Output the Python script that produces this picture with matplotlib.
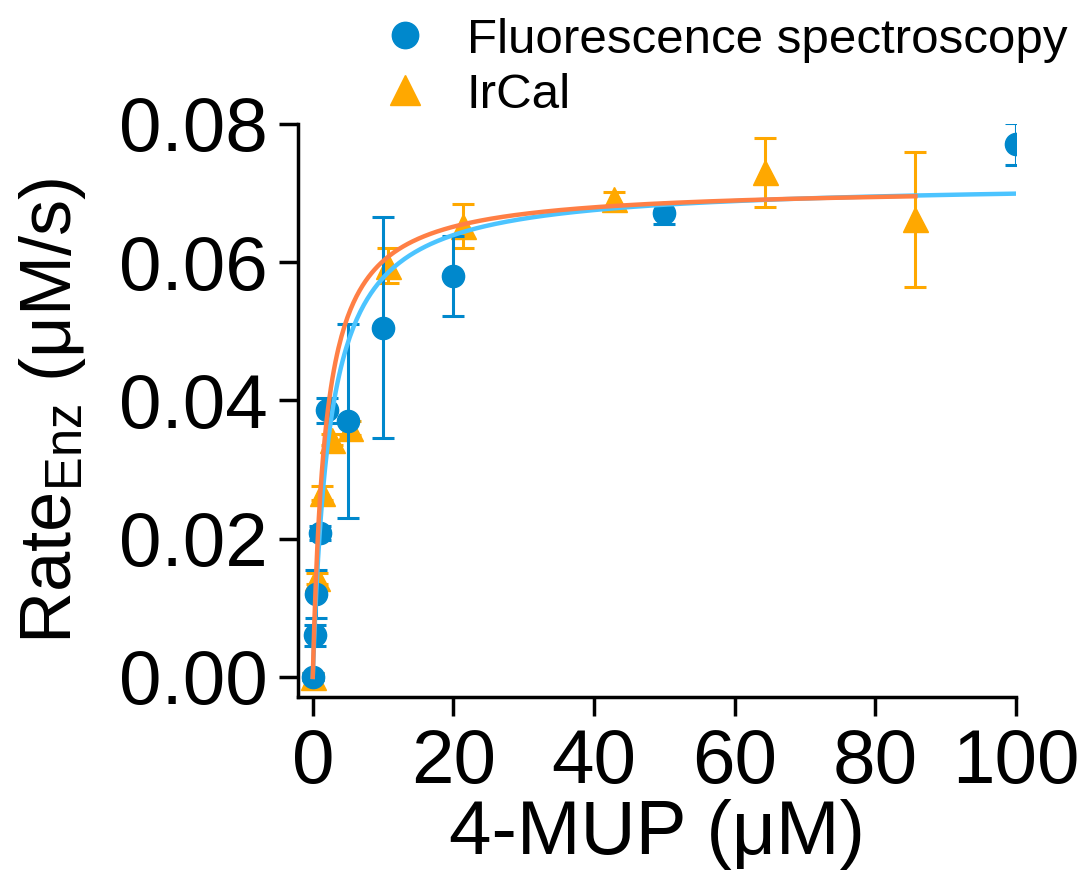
import numpy as np
import matplotlib
matplotlib.use("Agg")
import matplotlib.pyplot as plt
from matplotlib.lines import Line2D

plt.rcParams['font.family'] = ['Liberation Sans', 'DejaVu Sans']
plt.rcParams['mathtext.fontset'] = 'custom'
plt.rcParams['mathtext.rm'] = 'Liberation Sans'
plt.rcParams['mathtext.it'] = 'Liberation Sans:italic'

# Fluorescence spectroscopy
fl_x = [0, 0.25, 0.5, 1, 2, 5, 10, 20, 50, 100]
fl_y = [0.0, 0.006, 0.012, 0.0208, 0.0386, 0.037, 0.0505, 0.058, 0.0671, 0.0771]
fl_err = [0.0005, 0.0015, 0.0035, 0.001, 0.0018, 0.014, 0.016, 0.0058, 0.0015, 0.003]

# IrCal
ir_x = [0, 0.67, 1.34, 2.68, 5.36, 10.7, 21.4, 42.9, 64.3, 85.7]
ir_y = [0.0, 0.0143, 0.0266, 0.0343, 0.036, 0.0595, 0.0652, 0.0691, 0.073, 0.0662]
ir_err = [0.0005, 0.0008, 0.001, 0.0008, 0.001, 0.0025, 0.0032, 0.001, 0.005, 0.0098]

# Michaelis-Menten fit parameters (Vmax, Km)
fl_fit = (0.0716, 2.4)
ir_fit = (0.0710, 1.8)

c_fl = '#0088CC'
c_fl_line = '#4CC4FF'
c_ir = '#FFA800'
c_ir_line = '#FF7F45'

fig = plt.figure(figsize=(10.86, 8.90), dpi=100)
ax = fig.add_axes([0.2744, 0.2169, 0.6611, 0.6438])

xs_fl = np.linspace(0, 100, 400)
xs_ir = np.linspace(0, 85.7, 400)

ax.errorbar(fl_x, fl_y, yerr=fl_err, fmt='o', color=c_fl, ms=16, capsize=8,
            elinewidth=2.2, capthick=2.2, zorder=3)
ax.errorbar(ir_x, ir_y, yerr=ir_err, fmt='^', color=c_ir, ms=18, capsize=8,
            elinewidth=2.2, capthick=2.2, zorder=2)
ax.plot(xs_fl, fl_fit[0] * xs_fl / (fl_fit[1] + xs_fl), color=c_fl_line, lw=3.2, zorder=4)
ax.plot(xs_ir, ir_fit[0] * xs_ir / (ir_fit[1] + xs_ir), color=c_ir_line, lw=3.2, zorder=5)

ax.set_xlim(-2.1, 100)
ax.set_ylim(-0.0029, 0.08)
ax.set_xticks([0, 20, 40, 60, 80, 100])
ax.set_yticks([0.0, 0.02, 0.04, 0.06, 0.08])
ax.set_yticklabels(['0.00', '0.02', '0.04', '0.06', '0.08'])

for s in ['top', 'right']:
    ax.spines[s].set_visible(False)
for s in ['left', 'bottom']:
    ax.spines[s].set_linewidth(2.5)
ax.tick_params(axis='both', which='major', labelsize=55, length=14, width=2.5, pad=8)

ax.set_xlabel('4-MUP (μM)', fontsize=55, labelpad=0)
ax.set_ylabel(r'Rate$_{\mathrm{Enz}}$ (μM/s)', fontsize=52, labelpad=22)

h = [Line2D([], [], marker='o', ls='', color=c_fl, ms=19),
     Line2D([], [], marker='^', ls='', color=c_ir, ms=21)]
fig.legend(h, ['Fluorescence spectroscopy', 'IrCal'], loc='upper left',
           bbox_to_anchor=(0.298, 1.03), frameon=False, fontsize=35.5,
           handletextpad=0.5, labelspacing=0.2, handlelength=1.5)

fig.savefig('out.png', dpi=100)
